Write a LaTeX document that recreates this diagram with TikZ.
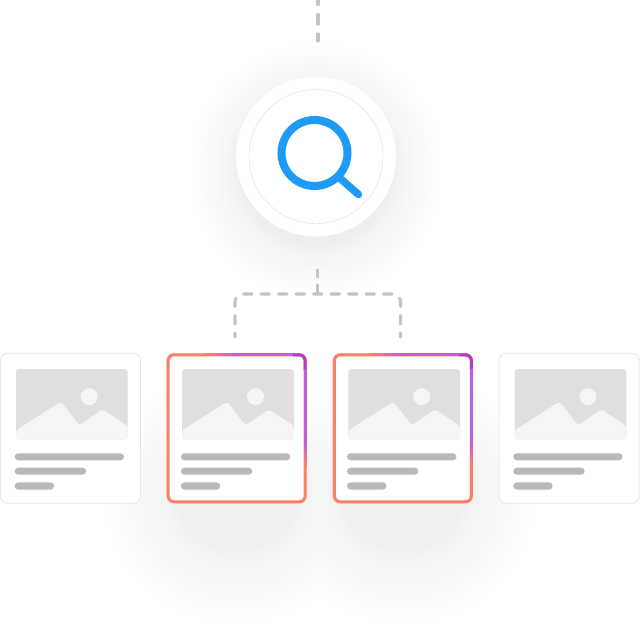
\documentclass[tikz,border=0pt]{standalone}
\usetikzlibrary{calc}
\definecolor{orangeedge}{HTML}{FF7F66}
\definecolor{purpleedge}{HTML}{BB5FDC}
\definecolor{magentaedge}{HTML}{B63CBC}
\definecolor{blueicon}{HTML}{1E9BF5}
\definecolor{dashgray}{HTML}{C4C4C4}
\definecolor{picgray}{HTML}{DFDFDF}
\definecolor{hillgray}{HTML}{F5F5F5}
\definecolor{bargray}{HTML}{B9B9B9}
\definecolor{cardedge}{HTML}{E8E6E8}
\definecolor{ringgray}{HTML}{DDDDDD}
\tikzset{
  cardbox/.style={rectangle,draw=cardedge,line width=0.8pt,fill=white,rounded corners=7pt,minimum width=140pt,minimum height=150pt,inner sep=0pt,outer sep=0pt},
  linkdash/.style={draw=dashgray,line width=3.2pt,line cap=round,dash pattern=on 8.5pt off 9pt},
  bar/.style={fill=bargray,rounded corners=3.5pt},
  colored/.style={line width=3pt,line cap=butt}
}
\begin{document}
\begin{tikzpicture}[x=1pt,y=-1pt]
\useasboundingbox (0,0) rectangle (640,629);
\fill[white] (0,0) rectangle (640,629);
% soft shadows: nested flat tones, lightest outermost
\foreach \k in {48,47,...,0}{
  \pgfmathsetmacro{\t}{\k/48}
  \pgfmathsetmacro{\f}{\t^0.72}
  \pgfmathsetmacro{\lev}{(239+16*\f)/255}
  \definecolor{shadetone}{gray}{\lev}
  \pgfmathsetmacro{\e}{72*\t}
  \pgfmathsetmacro{\rr}{58+\e}
  \fill[shadetone,rounded corners=\rr pt] (176-\e,440-\e) rectangle (298+\e,550+\e);
  \fill[shadetone,rounded corners=\rr pt] (342-\e,440-\e) rectangle (464+\e,550+\e);
  \pgfmathsetmacro{\levc}{(238+17*\t^0.72)/255}
  \definecolor{circletone}{gray}{\levc}
  \fill[circletone] (316,170) circle[radius=76+50*\t];
}
% hub
\node[circle,fill=white,minimum size=160pt,inner sep=0pt,outer sep=0pt] (hub) at (316,156.5) {};
\node[circle,draw=ringgray,line width=0.4pt,minimum size=134pt,inner sep=0pt,outer sep=0pt] (ring) at (316,156.5) {};
\node[circle,draw=blueicon,line width=8pt,minimum size=66pt,inner sep=0pt,outer sep=0pt] (lens) at (314.5,153) {};
\coordinate (handle) at (358.5,194.5);
\draw[blueicon,line width=7.5pt,line cap=round] (lens.-45) -- (handle);
% cards
\foreach \i/\dx in {1/0,2/166.2,3/332.4,4/498.6}{
  \begin{scope}[shift={(\dx,0)}]
    \node[cardbox] (card\i) at (70.4,428.3) {};
    \fill[picgray,rounded corners=3pt] (16,369) rectangle (127.7,439.3);
    \fill[hillgray,rounded corners=3pt] (16,430.3) -- (61,401.7) -- (79.3,425.3) -- (102.7,409.3) -- (127.7,426) -- (127.7,439.3) -- (16,439.3) -- cycle;
    \fill[hillgray] (89.3,396.7) circle[radius=8.5];
    \fill[bar] (14.7,453.3) rectangle (124,460.3);
    \fill[bar] (14.7,467.7) rectangle (86,474.7);
    \fill[bar] (14.7,482.4) rectangle (54,489.6);
  \end{scope}
}
% highlighted card borders
\foreach \i/\dx in {2/166.2,3/332.4}{
  \begin{scope}[shift={(\dx,0)}]
    \draw[orangeedge,colored,rounded corners=6pt] (2,354.8) rectangle (139,501.8);
    \foreach \s in {0,1,...,17}{
      \pgfmathsetmacro{\mixv}{\s*100/17}
      \draw[colored,purpleedge!\mixv!orangeedge] ({38+2*\s},354.8) -- ({40.5+2*\s},354.8);
    }
    \draw[colored,purpleedge] (73.5,354.8) -- (128,354.8);
    \draw[colored,magentaedge] (127,354.8) -- (133,354.8) arc[start angle=-90,end angle=0,radius=6] -- (139,370);
    \draw[colored,purpleedge] (139,369) -- (139,442);
    \foreach \s in {0,1,...,11}{
      \pgfmathsetmacro{\mixv}{100-\s*100/11}
      \draw[colored,purpleedge!\mixv!orangeedge] (139,{441+2*\s}) -- (139,{443.5+2*\s});
    }
  \end{scope}
}
% connectors
\coordinate (topstart) at (318,-5);
\coordinate (junction) at (317.7,294);
\coordinate (stemtop) at (317.7,270);
\coordinate (dropL) at (235,337);
\coordinate (dropR) at (400.5,337);
\draw[linkdash,dash pattern=on 9.5pt off 10pt] (topstart) -- (318,41);
\draw[linkdash,dash pattern=on 7pt off 8pt] (stemtop) -- (junction);
\draw[linkdash,dash phase=4.6pt,rounded corners=8pt] (dropL) |- (dropR |- junction) -- (dropR);
\end{tikzpicture}
\end{document}
